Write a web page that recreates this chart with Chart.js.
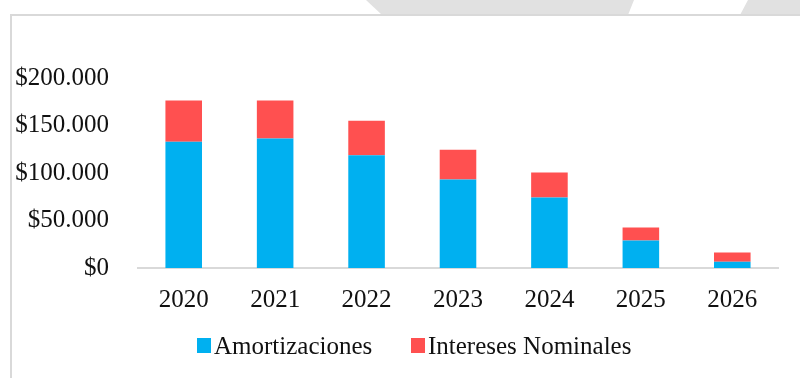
<!DOCTYPE html>
<html lang="es">
<head>
<meta charset="utf-8">
<title>Amortizaciones e intereses</title>
<script src="https://cdn.jsdelivr.net/npm/chart.js@4"></script>
<style>
    html, body {
        margin: 0;
        padding: 0;
        background: #fff;
    }
    #wrap {
        position: relative;
        width: 800px;
        height: 378px;
        overflow: hidden;
        font-family: "Liberation Serif", serif;
        color: #111;
    }
    /* grey tabs along the top edge */
    .tab {
        position: absolute;
        top: 0;
        height: 15px;
        background: #e1e1e1;
    }
    #tab1 {
        left: 366px;
        width: 268px;
        clip-path: polygon(0 0, 100% 0, 262px 100%, 16px 100%);
    }
    #tab2 {
        left: 740px;
        width: 60px;
        clip-path: polygon(8px 0, 100% 0, 100% 100%, 0 100%);
    }
    #frame {
        position: absolute;
        left: 10px;
        top: 14px;
        right: -4px;
        bottom: -4px;
        border-left: 2px solid #d9d9d9;
        border-top: 2px solid #d9d9d9;
    }
    #chartBox {
        position: absolute;
        left: 0;
        top: 0;
        width: 800px;
        height: 378px;
    }
    .legend-item {
        position: absolute;
        top: 333px;
        font-size: 25px;
        line-height: 25px;
        white-space: nowrap;
    }
    .legend-item span.box {
        position: absolute;
        top: 5px;
        width: 14px;
        height: 15px;
    }
    .legend-item span.txt {
        margin-left: 17px;
    }
</style>
</head>
<body>
<div id="wrap">
    <div class="tab" id="tab1"></div>
    <div class="tab" id="tab2"></div>
    <div id="frame"></div>
    <div id="chartBox"><canvas id="pagosChart"></canvas></div>
    <div id="legend"></div>
</div>

<script>
// Calendario de pagos por año
const years = ['2020', '2021', '2022', '2023', '2024', '2025', '2026'];
const amortizaciones = [133000, 136200, 118600, 93100, 74100, 28900, 6500];
const intereses = [43400, 40200, 36500, 31500, 26300, 13700, 9800];
const yTickValues = [0, 50000, 100000, 150000, 200000];

const seriesNames = ['Amortizaciones', 'Intereses Nominales'];
const seriesColors = ['#00B0F0', '#FF5050'];

// $ con separador de miles '.'
function formatPeso(value) {
    return '$' + String(value).replace(/\B(?=(\d{3})+(?!\d))/g, '.');
}

const pagosChart = new Chart(document.getElementById('pagosChart'), {
    type: 'bar',
    data: {
        labels: years,
        datasets: [
            {
                label: seriesNames[0],
                data: amortizaciones,
                backgroundColor: seriesColors[0],
                borderWidth: 0
            },
            {
                label: seriesNames[1],
                data: intereses,
                backgroundColor: seriesColors[1],
                borderWidth: 0
            }
        ]
    },
    options: {
        responsive: true,
        maintainAspectRatio: false,
        animation: false,
        barPercentage: 0.4,
        categoryPercentage: 1,
        layout: {
            padding: { left: 10, right: 22, top: 78, bottom: 60 }
        },
        scales: {
            x: {
                stacked: true,
                grid: { display: false, drawTicks: false },
                border: { display: true, color: '#d9d9d9', width: 2 },
                ticks: {
                    color: '#111',
                    padding: 17,
                    font: { family: 'Liberation Serif', size: 25 }
                },
                afterFit: function(axis) {
                    axis.height = 50;
                }
            },
            y: {
                stacked: true,
                min: 0,
                max: 200000,
                afterBuildTicks: function(axis) {
                    axis.ticks = yTickValues.map(v => ({ value: v }));
                },
                grid: { display: false, drawTicks: false },
                border: { display: false },
                ticks: {
                    color: '#111',
                    padding: 29,
                    font: { family: 'Liberation Serif', size: 25 },
                    callback: function(value) {
                        return formatPeso(value);
                    }
                },
                afterFit: function(axis) {
                    axis.width = 128;
                }
            }
        },
        plugins: {
            legend: { display: false },
            tooltip: { enabled: false }
        }
    }
});

// Leyenda
const legendEl = document.getElementById('legend');
const legendLeft = [197, 411];
seriesNames.forEach((name, i) => {
    const item = document.createElement('div');
    item.className = 'legend-item';
    item.style.left = legendLeft[i] + 'px';
    item.innerHTML = '<span class="box" style="background:' + seriesColors[i] + '"></span>' +
        '<span class="txt">' + name + '</span>';
    legendEl.appendChild(item);
});
</script>
</body>
</html>
